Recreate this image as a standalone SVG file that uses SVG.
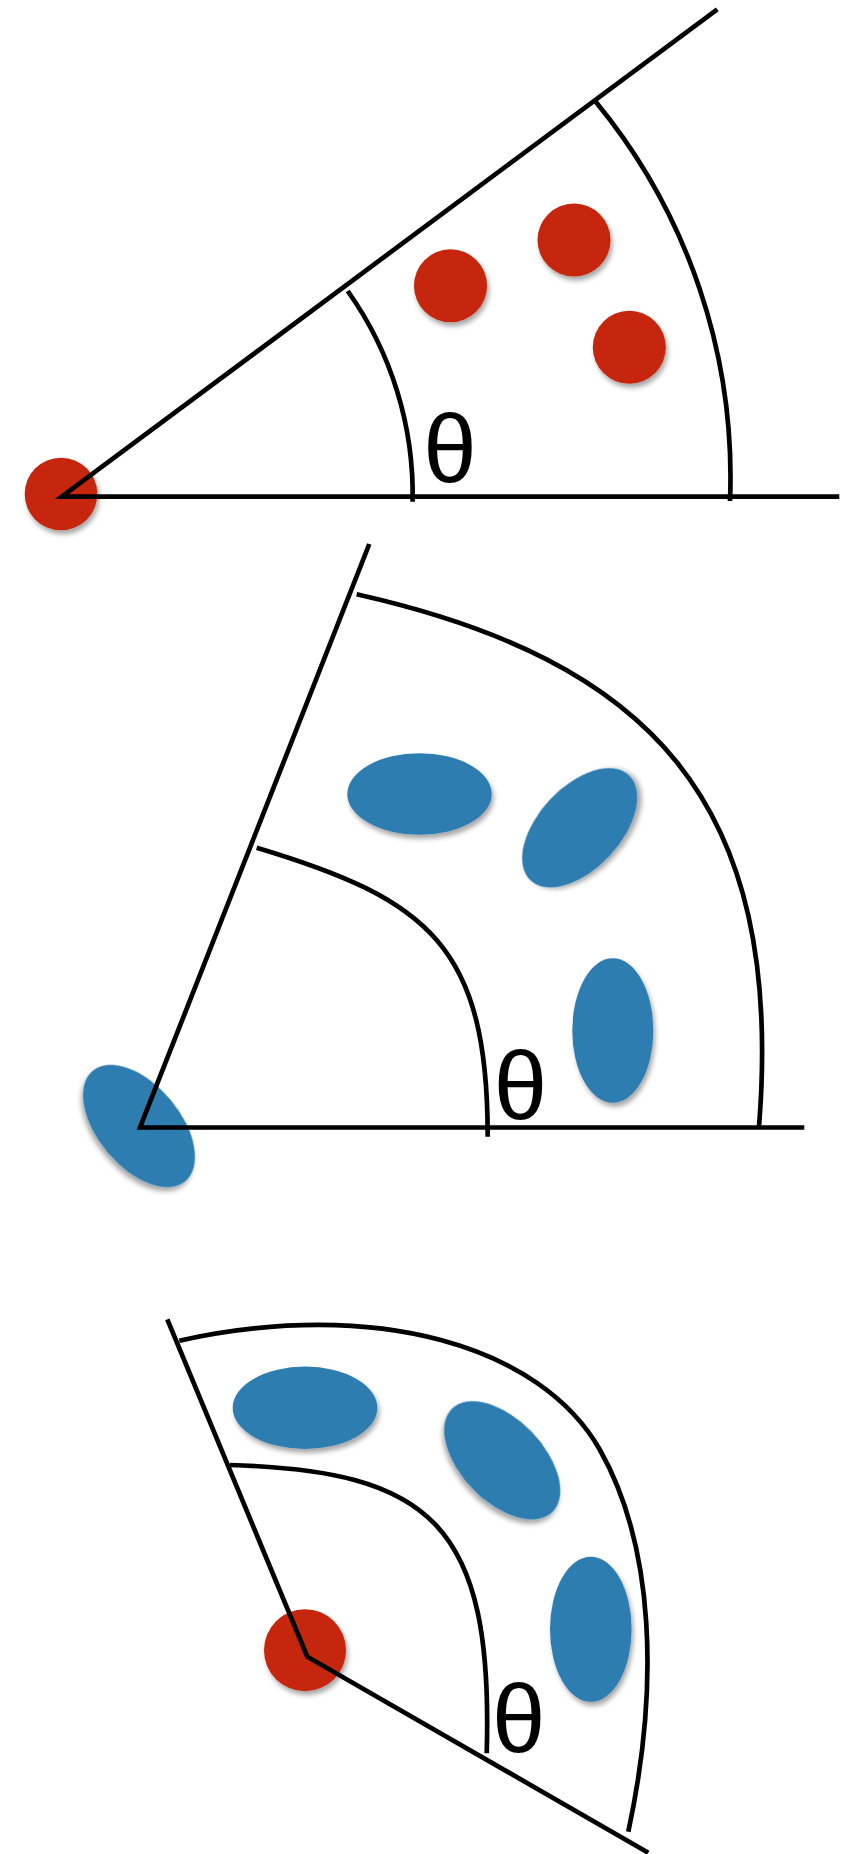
<svg xmlns="http://www.w3.org/2000/svg" width="861" height="1854" viewBox="0 0 861 1854">
<style>
.ln{fill:none;stroke:#000;stroke-width:4.7;stroke-linecap:butt;stroke-linejoin:miter}
.red{fill:#C62509;filter:url(#sh)}
.blue{fill:#2E7DB0;filter:url(#sh)}
.th{font-family:"Liberation Sans",Arial,sans-serif;font-size:96px;fill:#000;text-anchor:middle}
</style>
<defs>
<filter id="sh" x="-30%" y="-30%" width="160%" height="160%">
<feDropShadow dx="2" dy="4" stdDeviation="2.5" flood-color="#000" flood-opacity="0.35"/>
</filter>
</defs>
<rect width="861" height="1854" fill="#fff"/>

<g id="panel1">
<g id="p1-dots">
<circle class="red" cx="61" cy="494" r="36.3"/>
<circle class="red" cx="450.5" cy="285.7" r="36.5"/>
<circle class="red" cx="574" cy="240" r="36.5"/>
<circle class="red" cx="629.3" cy="347.3" r="36.5"/>
</g>
<g id="p1-lines">
<path class="ln" d="M839.3,496.7 L61.7,496.7 L717.3,9.3"/>
<path class="ln" d="M347.7,291 A351,351 0 0,1 412.6,501.7"/>
<path class="ln" d="M595.7,101.7 A590,590 0 0,1 730,501"/>
</g>
<text class="th" x="450" y="482">θ</text>
</g>

<g id="panel2">
<g id="p2-ellipses">
<ellipse class="blue" cx="139" cy="1126" rx="72" ry="41" transform="rotate(50 139 1126)"/>
<ellipse class="blue" cx="419.5" cy="794" rx="72.2" ry="40.8"/>
<ellipse class="blue" cx="579.7" cy="827.8" rx="72" ry="41" transform="rotate(-47 579.7 827.8)"/>
<ellipse class="blue" cx="612.8" cy="1030.5" rx="40.5" ry="72.2"/>
</g>
<g id="p2-lines">
<path class="ln" d="M804.3,1127.5 L140,1127.5 L369.3,544"/>
<path class="ln" d="M256.7,847.7 C429.1,899.4 487.7,946.7 487.7,1136.7"/>
<path class="ln" d="M356.7,594.3 C649.2,660.3 785,800 759,1127"/>
</g>
<text class="th" x="520.5" y="1119">θ</text>
</g>

<g id="panel3">
<g id="p3-shapes">
<ellipse class="blue" cx="305" cy="1407.8" rx="72.3" ry="41.2"/>
<ellipse class="blue" cx="502.2" cy="1460.3" rx="72" ry="41" transform="rotate(46 502.2 1460.3)"/>
<ellipse class="blue" cx="590.8" cy="1629.2" rx="40.8" ry="72.5"/>
<circle class="red" cx="305" cy="1650.2" r="41"/>
</g>
<g id="p3-lines">
<path class="ln" d="M167.3,1319.3 L307.3,1656.7 L648.3,1852.7"/>
<path class="ln" d="M230,1465 C430,1471 493.6,1523.3 486.7,1753.3"/>
<path class="ln" d="M179.3,1340.7 C374.5,1297.7 541.2,1345.6 600,1450 C653.9,1545.7 659.8,1685 628.3,1831.7"/>
</g>
<text class="th" x="518.7" y="1752">θ</text>
</g>
</svg>
